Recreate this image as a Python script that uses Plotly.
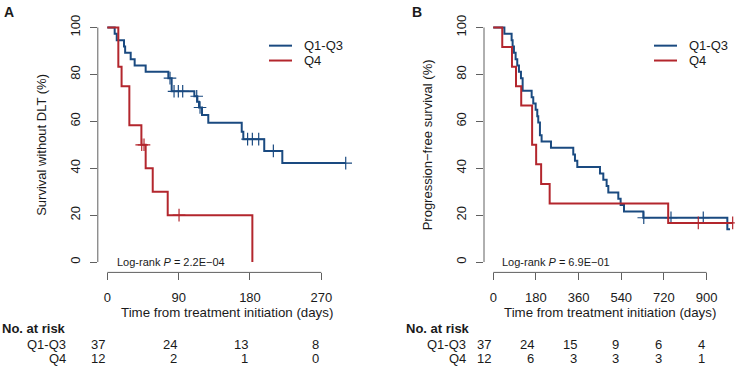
import plotly.graph_objects as go

# ---------------- data ----------------
# Panel A: survival without DLT
a_q13_time = [0, 9.3, 11.9, 21.1, 22.5, 29.5, 34.5, 48.4, 77.0, 81.2, 109.8, 113.6, 115.7,
              119.5, 127.4, 169.6, 171.6, 198.0, 220.8, 300.8]
a_q13_surv = [100, 97.3, 94.6, 91.9, 89.2, 86.5, 83.8, 81.1, 78.4, 72.8, 70.7, 68.3, 65.9,
              62.7, 59.4, 55.6, 52.4, 47.4, 42.2, 42.2]
a_q13_cens_time = [79.1, 84.2, 89.6, 95.1, 112.8, 117.0, 177.0, 183.0, 191.0, 209.5, 300.8]
a_q13_cens_surv = [78.4, 72.8, 72.8, 72.8, 70.7, 65.9, 52.4, 52.4, 52.4, 47.4, 42.2]

a_q4_time = [0, 13.9, 18.0, 27.8, 43.0, 48.4, 57.3, 76.2, 183.0]
a_q4_surv = [100, 83.3, 75.0, 58.3, 50.0, 40.0, 30.0, 20.0, 0.0]
a_q4_cens_time = [43.4, 46.3, 90.5]
a_q4_cens_surv = [50.0, 50.0, 20.0]

a_ticks = [0, 90, 180, 270]
a_risk_q13 = [37, 24, 13, 8]
a_risk_q4 = [12, 2, 1, 0]
a_pvalue = "2.2E\u221204"

# Panel B: progression-free survival
b_q13_time = [0, 47.0, 77.5, 81.7, 87.3, 94.4, 101.3, 108.4, 116.9, 124.0, 162.0, 168.8, 178.9,
              185.7, 189.9, 197.0, 204.0, 243.5, 337.6, 344.7, 354.6, 450.2, 464.3, 478.3,
              485.4, 527.6, 537.4, 551.5, 633.0, 987.5, 998.9]
b_q13_surv = [100, 97.3, 94.6, 91.9, 89.2, 86.5, 83.8, 81.1, 78.4, 73.0, 70.3, 67.6, 64.9,
              62.2, 59.5, 54.1, 51.4, 48.7, 45.9, 43.2, 40.5, 37.8, 35.1, 32.4,
              29.7, 27.0, 24.3, 21.6, 18.9, 14.0, 14.0]
b_q13_cens_time = [635.0, 749.8, 886.0]
b_q13_cens_surv = [18.9, 18.9, 18.9]

b_q4_time = [0, 38.0, 79.0, 96.0, 118.0, 164.0, 181.0, 202.0, 238.0, 738.0, 1010.0]
b_q4_surv = [100, 91.7, 83.3, 75.0, 66.7, 50.0, 41.7, 33.3, 25.0, 16.7, 16.7]
b_q4_cens_time = [865.0, 1010.0]
b_q4_cens_surv = [16.7, 16.7]

b_ticks = [0, 180, 360, 540, 720, 900]
b_risk_q13 = [37, 24, 15, 9, 6, 4]
b_risk_q4 = [12, 6, 3, 3, 3, 1]
b_pvalue = "6.9E\u221201"

y_ticks = [0, 20, 40, 60, 80, 100]
groups = ["Q1-Q3", "Q4"]
colors = ["#1a4a80", "#b3262d"]

# ---------------- layout helpers ----------------
W, H = 740, 370
FONT = "Liberation Sans, Arial, Helvetica, sans-serif"
AXC = "#606060"
TXT = "#1a1a1a"


def px(p):
    return p / W


def py(p):
    return 1 - p / H


fig = go.Figure()


def add_curve(t, s, ct, cs, color, xa, ya):
    fig.add_trace(go.Scatter(x=t, y=s, mode="lines", line=dict(color=color, width=2, shape="hv"),
                             xaxis=xa, yaxis=ya, hoverinfo="skip"))
    fig.add_trace(go.Scatter(x=ct, y=cs, mode="markers",
                             marker=dict(symbol="cross-thin", size=9, line=dict(color=color, width=1.2)),
                             xaxis=xa, yaxis=ya, hoverinfo="skip"))


add_curve(a_q13_time, a_q13_surv, a_q13_cens_time, a_q13_cens_surv, colors[0], "x", "y")
add_curve(a_q4_time, a_q4_surv, a_q4_cens_time, a_q4_cens_surv, colors[1], "x", "y")
add_curve(b_q13_time, b_q13_surv, b_q13_cens_time, b_q13_cens_surv, colors[0], "x2", "y2")
add_curve(b_q4_time, b_q4_surv, b_q4_cens_time, b_q4_cens_surv, colors[1], "x2", "y2")

ydom = [py(271.6), py(15.24)]
common_x = dict(showgrid=False, zeroline=False, showline=False, ticks="outside", ticklen=7,
                tickwidth=1, tickcolor=AXC, tickfont=dict(size=13, color=TXT, family=FONT),
                ticklabelstandoff=6)
common_y = dict(showgrid=False, zeroline=False, showline=False, ticks="outside", ticklen=7,
                tickwidth=1, tickcolor=AXC, tickangle=-90, range=[-4.4, 104], tickvals=y_ticks,
                tickfont=dict(size=13, color=TXT, family=FONT), domain=ydom, ticklabelstandoff=5)

fig.update_layout(
    width=W, height=H, margin=dict(l=0, r=0, t=0, b=0),
    paper_bgcolor="white", plot_bgcolor="white", showlegend=False,
    font=dict(family=FONT, size=13, color=TXT),
    xaxis=dict(domain=[px(97.8), px(354.6)], range=[-12, 312], tickvals=a_ticks, anchor="y", **common_x),
    yaxis=dict(anchor="x", **common_y),
    xaxis2=dict(domain=[px(484.0), px(734.8)], range=[-39, 1019], tickvals=b_ticks, anchor="y2", **common_x),
    yaxis2=dict(anchor="x2", **common_y),
)

shapes = []
annotations = []

panels = [
    dict(xa="x", ya="y", ticks=a_ticks, rq13=a_risk_q13, rq4=a_risk_q4, p=a_pvalue, pday=80,
         letter="A", letter_x=9, ytitle="Survival without DLT (%)", ytitle_x=42,
         leg_x0=269, leg_x1=292, leg_tx=302, risk_x=0, lab_x=68.3, xt_c=(97.8 + 354.6) / 2),
    dict(xa="x2", ya="y2", ticks=b_ticks, rq13=b_risk_q13, rq4=b_risk_q4, p=b_pvalue, pday=264,
         letter="B", letter_x=417.5, ytitle="Progression\u2212free survival (%)", ytitle_x=427.5,
         leg_x0=654, leg_x1=677, leg_tx=686.7, risk_x=404, lab_x=468.3, xt_c=(484.0 + 734.8) / 2),
]

for P in panels:
    xd = P["xa"] + " domain"
    yd = P["ya"] + " domain"
    # R-style axis lines spanning the tick range
    shapes.append(dict(type="line", xref=P["xa"], yref=yd, x0=min(P["ticks"]), x1=max(P["ticks"]),
                       y0=0, y1=0, line=dict(color=AXC, width=1)))
    shapes.append(dict(type="line", xref=xd, yref=P["ya"], x0=0, x1=0, y0=min(y_ticks), y1=max(y_ticks),
                       line=dict(color=AXC, width=1)))
    # legend
    for i, (g, c) in enumerate(zip(groups, colors)):
        yy = py(43 + 15 * i)
        shapes.append(dict(type="line", xref="paper", yref="paper", x0=px(P["leg_x0"]), x1=px(P["leg_x1"]),
                           y0=yy, y1=yy, line=dict(color=c, width=2)))
        annotations.append(dict(text=g, xref="paper", yref="paper", x=px(P["leg_tx"]), y=yy,
                                xanchor="left", yanchor="middle", showarrow=False,
                                font=dict(size=13, color=TXT)))
    # panel letter
    annotations.append(dict(text="<b>%s</b>" % P["letter"], xref="paper", yref="paper", x=px(P["letter_x"]),
                            y=py(9), xanchor="center", yanchor="middle", showarrow=False,
                            font=dict(size=14, color=TXT)))
    # y title
    annotations.append(dict(text=P["ytitle"], xref="paper", yref="paper", x=px(P["ytitle_x"]), y=py(143),
                            textangle=-90, xanchor="center", yanchor="middle", showarrow=False,
                            font=dict(size=13, color=TXT)))
    # x title
    annotations.append(dict(text="Time from treatment initiation (days)", xref="paper", yref="paper",
                            x=px(P["xt_c"] + 1), y=py(312.3), xanchor="center", yanchor="middle",
                            showarrow=False, font=dict(size=13.3, color=TXT)))
    # log-rank
    annotations.append(dict(text="Log-rank <i>P</i> = %s" % P["p"], xref=P["xa"], yref=P["ya"],
                            x=P["pday"], y=0, xanchor="center", yanchor="middle", showarrow=False,
                            font=dict(size=11, color=TXT)))
    # risk table
    annotations.append(dict(text="<b>No. at risk</b>", xref="paper", yref="paper", x=px(P["risk_x"]),
                            y=py(328.5), xanchor="left", yanchor="middle", showarrow=False,
                            font=dict(size=13, color=TXT)))
    for gi, (g, row) in enumerate(zip(groups, [P["rq13"], P["rq4"]])):
        yy = py(344.5 + 14.3 * gi)
        annotations.append(dict(text=g, xref="paper", yref="paper", x=px(P["lab_x"]), y=yy,
                                xanchor="right", yanchor="middle", showarrow=False,
                                font=dict(size=13, color=TXT)))
        for t, n in zip(P["ticks"], row):
            annotations.append(dict(text=str(n), xref=P["xa"], yref="paper", x=t, y=yy,
                                    xanchor="right", yanchor="middle", showarrow=False,
                                    font=dict(size=13, color=TXT)))

fig.update_layout(shapes=shapes, annotations=annotations)
fig.write_html(
    "out.html",
    config={"displayModeBar": False},
    post_script="document.body.style.margin='0';document.body.style.padding='0';"
                "document.body.style.overflow='hidden';",
)
